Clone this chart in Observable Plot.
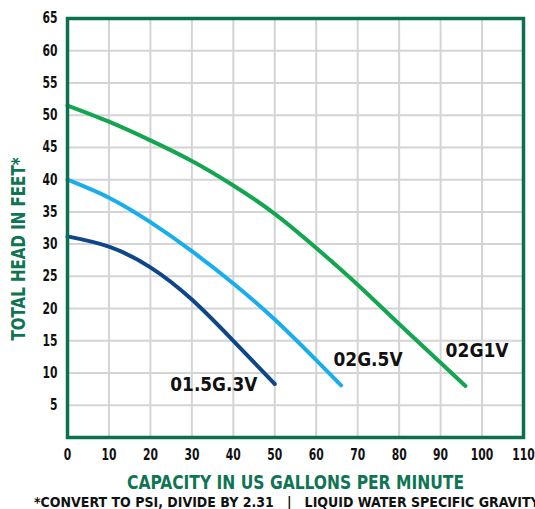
<!DOCTYPE html>
<html>
<head>
<meta charset="utf-8">
<script src="https://cdn.jsdelivr.net/npm/d3@7"></script>
<script src="https://cdn.jsdelivr.net/npm/@observablehq/plot@0.6"></script>
<style>
  html, body { margin: 0; padding: 0; background: #fff; width: 535px; height: 509px; overflow: hidden; }
  #chart svg { display: block; }
  .foot { font-family: "DejaVu Sans Condensed", "Liberation Sans Narrow", sans-serif; font-weight: bold; font-size: 14px; color: #111; white-space: pre; position: absolute; left: 34px; top: 494px; line-height: 17px; }
</style>
</head>
<body>
<div id="chart"></div>
<div class="foot">*CONVERT TO PSI, DIVIDE BY 2.31   |   LIQUID WATER SPECIFIC GRAVITY</div>
<script>
const xTicks = [0, 10, 20, 30, 40, 50, 60, 70, 80, 90, 100, 110];
const yTicks = [5, 10, 15, 20, 25, 30, 35, 40, 45, 50, 55, 60, 65];

const gpm02G1V = [0, 10, 20, 30, 40, 50, 60, 70, 80, 90, 96];
const head02G1V = [51.5, 49, 46.1, 42.9, 39.1, 34.7, 29.4, 23.7, 17.6, 11.6, 8];

const gpm02G5V = [0, 10, 20, 30, 40, 50, 60, 66];
const head02G5V = [40, 37.2, 33.4, 28.9, 23.9, 18.3, 12.0, 8.1];

const gpm015G3V = [0, 10, 20, 30, 40, 50];
const head015G3V = [31.2, 29.6, 26.4, 21.4, 15.0, 8.3];

const seriesNames = ["02G1V", "02G.5V", "01.5G.3V"];
const labelX = [98.8, 72.5, 35.3];
const labelY = [13.4, 12.0, 8.1];

const colors = {"02G1V": "#13a54f", "02G.5V": "#1aadee", "01.5G.3V": "#0d4689"};

const rows = [];
gpm02G1V.forEach((g, i) => rows.push({series: "02G1V", gpm: g, head: head02G1V[i]}));
gpm02G5V.forEach((g, i) => rows.push({series: "02G.5V", gpm: g, head: head02G5V[i]}));
gpm015G3V.forEach((g, i) => rows.push({series: "01.5G.3V", gpm: g, head: head015G3V[i]}));

const labels = seriesNames.map((s, i) => ({series: s, x: labelX[i], y: labelY[i]}));

const font = '"DejaVu Sans Condensed", "Liberation Sans Narrow", sans-serif';
const green = "#0c6f50";
const xTitle = "CAPACITY IN US GALLONS PER MINUTE";
const yTitle = "TOTAL HEAD IN FEET*";

const chart = Plot.plot({
  width: 535,
  height: 494,
  marginLeft: 67,
  marginRight: 12,
  marginTop: 18,
  marginBottom: 57,
  style: {fontFamily: font, fontWeight: "bold", color: "#111", background: "#fff"},
  x: {domain: [0, 110]},
  y: {domain: [0, 65]},
  marks: [
    Plot.gridX(xTicks.slice(1, -1), {stroke: "#d4d4d4", strokeOpacity: 1, strokeWidth: 2}),
    Plot.gridY(yTicks.slice(0, -1), {stroke: "#d4d4d4", strokeOpacity: 1, strokeWidth: 2}),
    Plot.axisX(xTicks, {tickSize: 0, tickPadding: 11, fontSize: 15.5, fill: "#111", label: null}),
    Plot.axisY(yTicks, {tickSize: 0, tickPadding: 10, fontSize: 15.5, fill: "#111", label: null}),
    Plot.line(rows, {x: "gpm", y: "head", z: "series", stroke: d => colors[d.series], strokeWidth: 4, curve: "natural"}),
    Plot.frame({stroke: green, strokeWidth: 3.5}),
    Plot.text(labels, {x: "x", y: "y", text: "series", fontSize: 19, fontWeight: "bold", fill: "#111"}),
    Plot.text([xTitle], {frameAnchor: "bottom", lineAnchor: "middle", dy: 45, fontSize: 20, fontWeight: "bold", fill: "#0f7453"}),
    Plot.text([yTitle], {frameAnchor: "left", textAnchor: "middle", lineAnchor: "middle", dx: -49, dy: 21, rotate: -90, fontSize: 19, fontWeight: "bold", fill: "#0f7453"})
  ]
});

// condense the text to match the narrow typeface of the original
const widths = {"02G1V": 63, "02G.5V": 69, "01.5G.3V": 87};
widths[xTitle] = 337;
widths[yTitle] = 183;
d3.select(chart).selectAll("text").each(function() {
  const t = this.textContent;
  if (widths[t]) {
    this.setAttribute("textLength", widths[t]);
    this.setAttribute("lengthAdjust", "spacingAndGlyphs");
  } else if (/^\d+$/.test(t)) {
    this.setAttribute("textLength", t.length * 7.5);
    this.setAttribute("lengthAdjust", "spacingAndGlyphs");
  }
});
document.getElementById("chart").appendChild(chart);
</script>
</body>
</html>
